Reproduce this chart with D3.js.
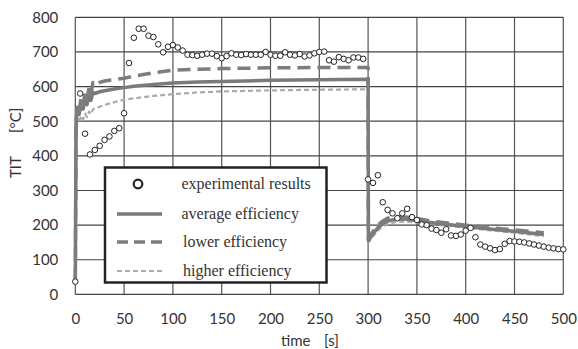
<!DOCTYPE html>
<html>
<head>
<meta charset="utf-8">
<script src="https://cdn.jsdelivr.net/npm/d3@7"></script>
<style>
  html, body { margin: 0; padding: 0; background: #fff; }
  svg { display: block; }
</style>
</head>
<body>
<svg id="chart" width="578" height="349"></svg>
<script>
// Turbine inlet temperature: measured points every 5 s
const expTime = [0,5,10,15,20,25,30,35,40,45,50,55,60,65,70,75,80,85,90,95,100,105,110,115,120,125,130,135,140,145,150,155,160,165,170,175,180,185,190,195,200,205,210,215,220,225,230,235,240,245,250,255,260,265,270,275,280,285,290,295,300,305,310,315,320,325,330,335,340,345,350,355,360,365,370,375,380,385,390,395,400,405,410,415,420,425,430,435,440,445,450,455,460,465,470,475,480,485,490,495,500];
const expTIT = [37,580,464,404,417,429,446,456,472,480,523,668,741,767,767,747,743,722,699,715,720,713,704,692,691,689,692,695,695,688,682,688,696,692,691,694,692,692,692,700,692,689,689,699,692,690,694,687,690,696,700,701,676,672,685,680,676,684,684,680,332,322,344,266,244,234,220,234,247,223,215,202,200,190,186,178,188,170,169,173,184,192,165,144,138,133,128,131,146,154,153,152,150,147,144,141,138,135,133,131,130];

// Simulated TIT for three compressor/turbine efficiency assumptions
const simTime = [0,0.8,2,4,6,8,10,12,14,16,18,20,25,30,40,50,60,80,100,125,150,200,250,300,300.3,305,310,315,320,330,340,350,360,375,400,425,450,480];
const avgEff  = [40,490,540,520,555,535,565,548,578,560,584,580,585,588,593,597,601,606,610,613,615,618,620,621,155,175,192,204,212,218,217,213,209,204,196,189,182,173];
const lowEff  = [40,500,548,532,568,548,582,562,598,578,612,605,612,616,620,624,630,640,647,650,652,654,655,655,160,182,200,212,220,225,223,219,214,208,200,193,186,178];
const highEff = [40,470,510,498,516,505,522,512,528,520,534,537,542,547,555,562,566,573,578,583,586,589,591,592,150,168,184,196,203,210,210,207,204,200,192,185,178,168];

const xTicks = [0,50,100,150,200,250,300,350,400,450,500];
const yTicks = [0,100,200,300,400,500,600,700,800];
const legendLabels = ["experimental results","average efficiency","lower efficiency","higher efficiency"];

const svg = d3.select("#chart");
const plotLeft = 75.3, plotTop = 17.3, plotRight = 563.3, plotBottom = 294.4;

const x = d3.scaleLinear().domain([0, 500]).range([plotLeft, plotRight]);
const y = d3.scaleLinear().domain([0, 800]).range([plotBottom, plotTop]);

const sans = "Lato, 'Open Sans', sans-serif";

// grid
const grid = svg.append("g");
grid.selectAll("line.v").data(xTicks).join("line")
  .attr("x1", d => x(d)).attr("x2", d => x(d))
  .attr("y1", plotTop).attr("y2", plotBottom)
  .attr("stroke", "#555").attr("stroke-width", 1.2);
grid.selectAll("line.h").data(yTicks).join("line")
  .attr("x1", plotLeft).attr("x2", plotRight)
  .attr("y1", d => y(d)).attr("y2", d => y(d))
  .attr("stroke", "#444").attr("stroke-width", 1.2);

// axes (labels only)
const xAxis = d3.axisBottom(x).tickValues(xTicks).tickSize(0).tickPadding(19).tickFormat(d3.format("d"));
const yAxis = d3.axisLeft(y).tickValues(yTicks).tickSize(0).tickPadding(17).tickFormat(d3.format("d"));
const gx = svg.append("g").attr("transform", `translate(0,${plotBottom})`).call(xAxis);
const gy = svg.append("g").attr("transform", `translate(${plotLeft},0)`).call(yAxis);
[gx, gy].forEach(g => {
  g.select(".domain").remove();
  g.selectAll("text").attr("font-family", sans)
    .attr("font-size", 15).attr("fill", "#333");
});

// axis titles
const xTitle = svg.append("text")
  .attr("x", 281).attr("y", 346)
  .attr("font-family", sans).attr("font-size", 15).attr("fill", "#333");
xTitle.append("tspan").text("time");
xTitle.append("tspan").attr("x", 324).text("[s]");

const yTitle = svg.append("text")
  .attr("transform", "translate(21,178) rotate(-90)")
  .attr("font-family", sans).attr("font-size", 15).attr("fill", "#333");
yTitle.append("tspan").attr("x", 0).text("TIT");
yTitle.append("tspan").attr("x", 45).text("[°C]");

// simulated curves
const line = d3.line().x(d => x(d[0])).y(d => y(d[1]));
const zip = vals => simTime.map((t, i) => [t, vals[i]]);

const styles = {
  avg:  { stroke: "#7a7a7a", width: 3.5, dash: null },
  low:  { stroke: "#7d7d7d", width: 3.5, dash: "13,7" },
  high: { stroke: "#ababab", width: 2.2, dash: "5,3" }
};

function drawCurve(vals, s) {
  svg.append("path")
    .attr("d", line(zip(vals)))
    .attr("fill", "none")
    .attr("stroke", s.stroke)
    .attr("stroke-width", s.width)
    .attr("stroke-dasharray", s.dash)
    .attr("stroke-linejoin", "round");
}
drawCurve(highEff, styles.high);
drawCurve(avgEff, styles.avg);
drawCurve(lowEff, styles.low);

// experimental points
svg.append("g").selectAll("circle").data(expTime.map((t, i) => [t, expTIT[i]])).join("circle")
  .attr("cx", d => x(d[0])).attr("cy", d => y(d[1]))
  .attr("r", 2.8)
  .attr("fill", "#fff").attr("stroke", "#222").attr("stroke-width", 1);

// legend
const lg = svg.append("g");
lg.append("rect")
  .attr("x", 105).attr("y", 167.5).attr("width", 221.5).attr("height", 115)
  .attr("fill", "#fff").attr("stroke", "#222").attr("stroke-width", 2.5);

const rowsY = [184, 214, 242, 271];
lg.append("circle").attr("cx", 138).attr("cy", rowsY[0]).attr("r", 4.3)
  .attr("fill", "#fff").attr("stroke", "#222").attr("stroke-width", 2.2);
[["avg", 1], ["low", 2], ["high", 3]].forEach(([k, i]) => {
  const s = styles[k];
  lg.append("line")
    .attr("x1", 117).attr("x2", 162).attr("y1", rowsY[i]).attr("y2", rowsY[i])
    .attr("stroke", s.stroke).attr("stroke-width", s.width)
    .attr("stroke-dasharray", k === "low" ? "11,6" : s.dash);
});
const textX = [181.5, 181.5, 183, 183];
lg.selectAll("text").data(legendLabels).join("text")
  .attr("x", (d, i) => textX[i]).attr("y", (d, i) => rowsY[i] + 5)
  .attr("font-family", "'Liberation Serif', 'Times New Roman', serif")
  .attr("font-size", 16).attr("fill", "#333")
  .text(d => d);
</script>
</body>
</html>
